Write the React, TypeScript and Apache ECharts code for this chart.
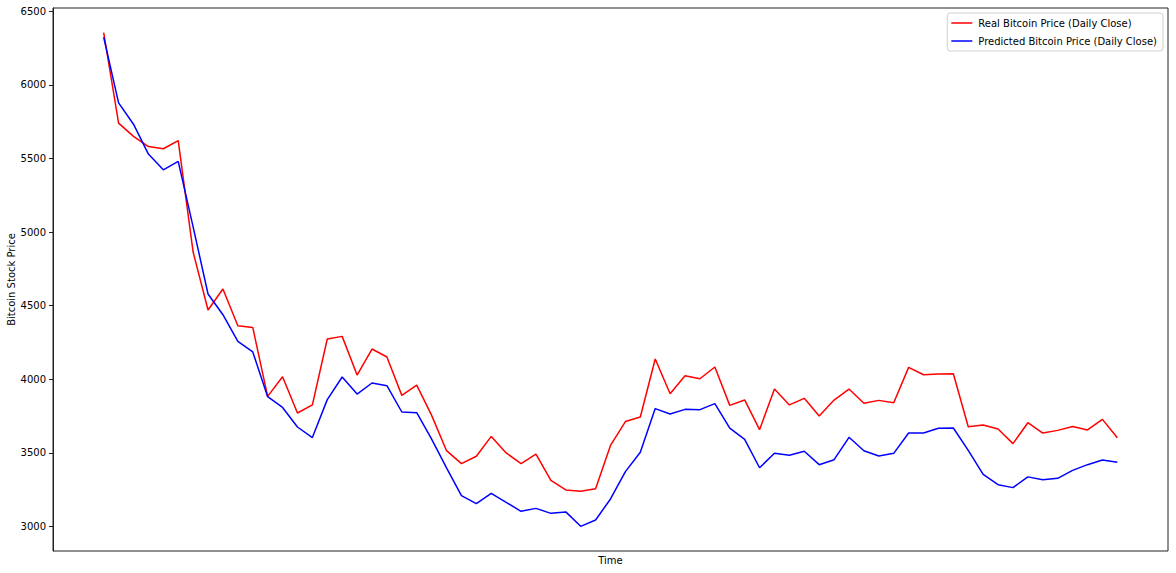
import React, { useEffect, useRef } from "react";
import * as echarts from "echarts";

const realPrice = [
  6355, 5740, 5650, 5581, 5566, 5622, 4864, 4470, 4613, 4363, 4352, 3883, 4017, 3770, 3825, 4273, 4291,
  4028, 4205, 4151, 3890, 3960, 3754, 3514, 3426, 3476, 3611, 3499, 3426, 3490, 3313, 3247, 3238, 3256,
  3550, 3712, 3743, 4137, 3901, 4024, 4003, 4083, 3822, 3859, 3657, 3933, 3825, 3870, 3750, 3858, 3933,
  3836, 3856, 3840, 4080, 4030, 4035, 4037, 3677, 3689, 3662, 3562, 3704, 3634, 3652, 3679, 3655, 3727,
  3602,
];

const predictedPrice = [
  6324, 5878, 5733, 5530, 5423, 5480, 5035, 4579, 4438, 4257, 4185, 3881, 3808, 3675, 3603, 3861, 4015,
  3899, 3974, 3956, 3777, 3772, 3592, 3397, 3209, 3154, 3224, 3163, 3102, 3122, 3088, 3098, 3000, 3043,
  3186, 3372, 3503, 3800, 3763, 3795, 3793, 3834, 3668, 3591, 3398, 3497, 3483, 3510, 3419, 3453, 3605,
  3514, 3478, 3496, 3634, 3634, 3666, 3668, 3516, 3353, 3283, 3263, 3336, 3317, 3326, 3380, 3419, 3451,
  3435,
];

const yTicks = [3000, 3500, 4000, 4500, 5000, 5500, 6000, 6500];

const seriesNames = ["Real Bitcoin Price (Daily Close)", "Predicted Bitcoin Price (Daily Close)"];

const FONT = "DejaVu Sans";

export default function App() {
  const ref = useRef<HTMLDivElement>(null);
  useEffect(() => {
    document.body.style.margin = "0";
    const chart = echarts.init(ref.current!, null, { renderer: "svg" });
    const n = realPrice.length;
    const all = realPrice.concat(predictedPrice);
    const lo = Math.min(...all);
    const hi = Math.max(...all);
    const yPad = (hi - lo) * 0.05;
    const xPad = (n - 1) * 0.05;
    chart.setOption({
      animation: false,
      grid: {
        left: 53,
        right: 8,
        top: 8,
        bottom: 22,
        containLabel: false,
        outerBoundsMode: "none",
        show: true,
        borderColor: "#222",
        borderWidth: 1,
        backgroundColor: "#fff",
      },
      legend: {
        orient: "vertical",
        right: 13,
        top: 13,
        icon: "rect",
        itemWidth: 21,
        itemHeight: 1.5,
        itemGap: 8,
        padding: [5, 6, 5, 4],
        borderColor: "#d0d0d0",
        borderWidth: 1,
        borderRadius: 3,
        backgroundColor: "rgba(255,255,255,0.8)",
        textStyle: { fontFamily: FONT, fontSize: 10, color: "#000", padding: [0, 0, 0, 1] },
        data: seriesNames,
      },
      xAxis: {
        type: "value",
        min: -xPad,
        max: n - 1 + xPad,
        name: "Time",
        nameLocation: "middle",
        nameGap: 4,
        nameMoveOverlap: false,
        nameTextStyle: { fontFamily: FONT, fontSize: 10, color: "#000" },
        axisLine: { show: false, onZero: false },
        axisTick: { show: false },
        axisLabel: { show: false },
        splitLine: { show: false },
      },
      yAxis: {
        type: "value",
        min: lo - yPad,
        max: hi + yPad,
        name: "Bitcoin Stock Price",
        nameLocation: "middle",
        nameGap: 37,
        nameMoveOverlap: false,
        nameTextStyle: { fontFamily: FONT, fontSize: 10, color: "#000" },
        axisLine: { show: true, onZero: false, lineStyle: { color: "#222", width: 1 } },
        axisTick: {
          show: true,
          length: 4,
          lineStyle: { color: "#222", width: 1 },
          customValues: yTicks,
        },
        axisLabel: {
          show: true,
          fontFamily: FONT,
          fontSize: 10,
          color: "#000",
          margin: 7,
          customValues: yTicks,
          formatter: (v: number) => String(v),
        },
        splitLine: { show: false },
      },
      series: [
        {
          name: seriesNames[0],
          type: "line",
          data: realPrice.map((v, i) => [i, v]),
          symbol: "none",
          lineStyle: { color: "#ff0000", width: 1.5 },
          itemStyle: { color: "#ff0000" },
        },
        {
          name: seriesNames[1],
          type: "line",
          data: predictedPrice.map((v, i) => [i, v]),
          symbol: "none",
          lineStyle: { color: "#0000ff", width: 1.5 },
          itemStyle: { color: "#0000ff" },
        },
      ],
    });
    return () => chart.dispose();
  }, []);
  return <div ref={ref} style={{ width: 1176, height: 573 }} />;
}
